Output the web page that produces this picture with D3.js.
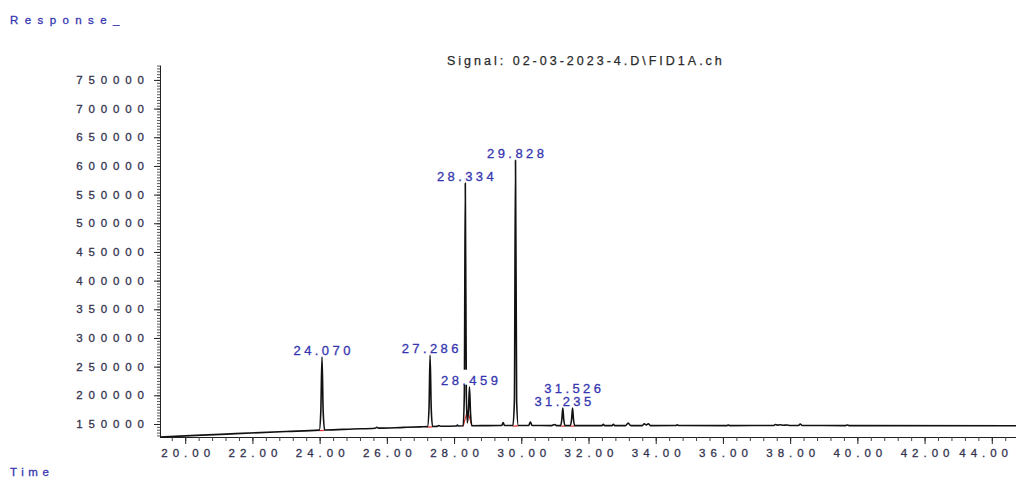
<!DOCTYPE html>
<html>
<head>
<meta charset="utf-8">
<script src="https://cdn.jsdelivr.net/npm/d3@7"></script>
<style>
  body { margin: 0; background: #fff; }
  svg { display: block; font-family: "Liberation Sans", Arial, sans-serif; }
</style>
</head>
<body>
<div id="chart"></div>
<script>
// trace points (time in min, response)
var traceTime = [
  19.25, 20.5, 21.5, 23.0,
  23.99, 24.035, 24.07, 24.105, 24.15,
  25.0, 25.65, 25.7, 25.75, 26.5, 27.0,
  27.21, 27.255, 27.286, 27.32, 27.36,
  27.5, 27.55, 27.6, 28.07, 28.1, 28.13,
  28.27, 28.305, 28.334, 28.365, 28.395, 28.43, 28.459, 28.49, 28.53,
  29.0, 29.42, 29.46, 29.5,
  29.75, 29.795, 29.828, 29.862, 29.91,
  30.22, 30.27, 30.32, 30.9, 31.0, 31.05,
  31.17, 31.21, 31.235, 31.26, 31.30,
  31.46, 31.50, 31.526, 31.55, 31.59,
  32.4, 32.44, 32.48, 32.7, 32.74, 32.78,
  33.1, 33.18, 33.26, 33.6, 33.66, 33.72, 33.78, 33.85,
  34.6, 34.64, 34.68, 36.12, 36.16, 36.2,
  37.5, 37.56, 37.62, 37.7, 37.8, 37.9, 38.0,
  38.25, 38.3, 38.36, 39.65, 39.7, 39.75, 44.75
];
var traceResp = [
  127300, 130500, 133100, 136900,
  139300, 172000, 267000, 172000, 139600,
  141300, 142500, 144300, 142700, 144100, 145000,
  145400, 178000, 270000, 178000, 145700,
  145900, 147200, 146000, 146500, 148300, 146600,
  146800, 200000, 570000, 200000, 152000, 175000, 215000, 168000, 147000,
  147200, 147300, 152500, 147300,
  147300, 190000, 610000, 190000, 147400,
  147300, 153500, 147300, 147200, 149000, 147200,
  147200, 160000, 178000, 160000, 147200,
  147200, 160000, 178000, 160000, 147200,
  147200, 149500, 147200, 147200, 149500, 147200,
  147200, 151500, 147200, 147200, 150500, 148500, 150500, 147200,
  147300, 148500, 147300, 147200, 148300, 147200,
  147300, 149000, 148000, 148600, 147800, 148200, 147400,
  147300, 150000, 147300, 147200, 148300, 147200, 147000
];

// integrated peaks
var peakTime = [24.070, 27.286, 28.334, 28.459, 29.828, 31.235, 31.526];
var peakResp = [267000, 270000, 570000, 215000, 610000, 178000, 178000];
var peakStart = [23.99, 27.21, 28.27, 28.40, 29.75, 31.17, 31.46];
var peakEnd = [24.15, 27.36, 28.40, 28.53, 29.91, 31.30, 31.59];

var xTicks = [20, 22, 24, 26, 28, 30, 32, 34, 36, 38, 40, 42, 44];
var yTicks = [150000, 200000, 250000, 300000, 350000, 400000, 450000,
              500000, 550000, 600000, 650000, 700000, 750000];

var W = 1016, H = 479;
var svg = d3.select("#chart").append("svg")
    .attr("width", W)
    .attr("height", H);

var x = d3.scaleLinear().domain([19.25, 44.75]).range([160, 1017]);
var y = d3.scaleLinear().domain([127300, 776000]).range([437, 65]);

var labelColor = "#33334f";
var blue = "#3535b0";

// y axis with minor ticks
var yMinor = d3.range(130000, 776000, 5000);
svg.append("g")
    .attr("transform", "translate(160,0)")
    .call(d3.axisLeft(y).tickValues(yMinor).tickSize(3).tickFormat("").tickSizeOuter(0))
    .call(function(g){ g.selectAll("line").attr("stroke", "#555"); g.select(".domain").attr("stroke", "#222"); });

var yAxis = svg.append("g")
    .attr("transform", "translate(160,0)")
    .call(d3.axisLeft(y).tickValues(yTicks).tickSize(6).tickPadding(10)
      .tickFormat(d3.format("d")).tickSizeOuter(0));
yAxis.select(".domain").remove();
yAxis.selectAll("line").attr("stroke", "#222");
yAxis.selectAll("text")
    .attr("font-size", "11.5px")
    .attr("letter-spacing", "5.9px")
    .attr("dx", "5.9")
    .attr("fill", labelColor)
    .attr("stroke", labelColor)
    .attr("stroke-width", 0.3);

// x axis with minor ticks
var xMinor = d3.range(19.6, 44.75, 0.4);
svg.append("g")
    .attr("transform", "translate(0,437)")
    .call(d3.axisBottom(x).tickValues(xMinor).tickSize(4).tickFormat("").tickSizeOuter(0))
    .call(function(g){ g.selectAll("line").attr("stroke", "#444"); g.select(".domain").attr("stroke", "#222").attr("stroke-width", 1.2); });

var xAxis = svg.append("g")
    .attr("transform", "translate(0,437)")
    .call(d3.axisBottom(x).tickValues(xTicks).tickSize(7).tickPadding(5)
      .tickFormat(d3.format(".2f")).tickSizeOuter(0));
xAxis.select(".domain").remove();
xAxis.selectAll("line").attr("stroke", "#222");
xAxis.selectAll("text")
    .attr("font-size", "11.5px")
    .attr("letter-spacing", "5px")
    .attr("dx", "2.5")
    .attr("fill", labelColor)
    .attr("stroke", labelColor)
    .attr("stroke-width", 0.3);
// keep the last label inside the page
xAxis.selectAll("text").each(function(d){
  var b = this.getBBox(), right = x(d) + b.x + b.width + 2.5;
  if (right > W - 1) d3.select(this).attr("dx", 2.5 - (right - W + 1));
});

// the trace
var pts = traceTime.map(function(t, i){ return [t, traceResp[i]]; });
var line = d3.line()
    .x(function(d){ return x(d[0]); })
    .y(function(d){ return y(d[1]); })
    .curve(d3.curveMonotoneX);

// integration baselines (red)
var baseAt = function(t){
  var i = d3.bisector(function(d){ return d[0]; }).left(pts, t);
  return pts[Math.max(0, Math.min(pts.length - 1, i))][1];
};
svg.append("g").selectAll("line")
  .data(peakTime)
  .enter().append("line")
    .attr("x1", function(d, i){ return x(peakStart[i]); })
    .attr("x2", function(d, i){ return x(peakEnd[i]); })
    .attr("y1", function(d, i){ return y(baseAt(peakStart[i])) + 0.5; })
    .attr("y2", function(d, i){ return y(baseAt(peakEnd[i])) + 0.5; })
    .attr("stroke", "#d33")
    .attr("stroke-width", 1.2);

svg.append("path")
    .datum(pts)
    .attr("d", line)
    .attr("fill", "none")
    .attr("stroke", "#111")
    .attr("stroke-width", 1.6)
    .attr("stroke-linejoin", "round");

// peak labels, moved up when they collide
var placed = [];
var lab = svg.append("g");
peakTime.forEach(function(t, i){
  var cx = x(t), by = y(peakResp[i]) - 2;
  var w = 58, h = 11;
  var box = {x0: cx - w / 2, x1: cx + w / 2, y0: by - h, y1: by};
  placed.forEach(function(p){
    if (box.x0 < p.x1 && box.x1 > p.x0 && box.y0 < p.y1 && box.y1 > p.y0) {
      var shift = box.y1 - p.y0 + 2;
      box.y0 -= shift; box.y1 -= shift;
    }
  });
  placed.push(box);
  lab.append("rect")
    .attr("x", box.x0)
    .attr("y", box.y0 - 4)
    .attr("width", w)
    .attr("height", h + 4)
    .attr("fill", "#fff");
  lab.append("text")
    .attr("x", cx + 1.7)
    .attr("y", box.y1)
    .attr("text-anchor", "middle")
    .attr("font-size", "13px")
    .attr("letter-spacing", "3.4px")
    .attr("fill", blue)
    .attr("stroke", blue)
    .attr("stroke-width", 0.3)
    .text(d3.format(".3f")(t));
});

// titles
svg.append("text")
    .attr("x", 447).attr("y", 65)
    .attr("font-size", "12.5px")
    .attr("letter-spacing", "3px")
    .attr("fill", "#2a2a2a")
    .attr("stroke", "#2a2a2a")
    .attr("stroke-width", 0.25)
    .text("Signal: 02-03-2023-4.D\\FID1A.ch");

svg.append("text")
    .attr("x", 10).attr("y", 24)
    .attr("font-size", "11.5px")
    .attr("letter-spacing", "6.4px")
    .attr("fill", blue)
    .attr("stroke", blue)
    .attr("stroke-width", 0.3)
    .text("Response_");

svg.append("text")
    .attr("x", 10).attr("y", 476)
    .attr("font-size", "11.5px")
    .attr("letter-spacing", "4.6px")
    .attr("fill", blue)
    .attr("stroke", blue)
    .attr("stroke-width", 0.3)
    .text("Time");
</script>
</body>
</html>
